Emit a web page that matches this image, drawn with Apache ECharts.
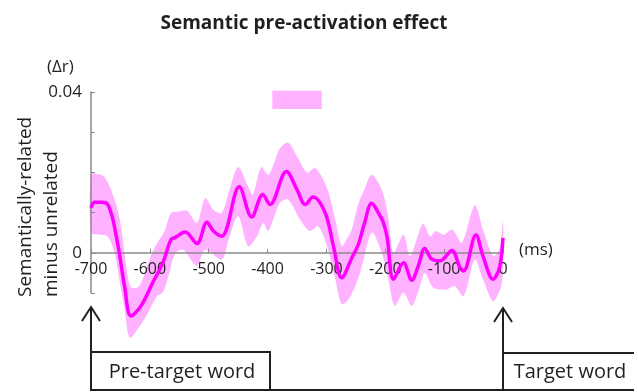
<!DOCTYPE html>
<html>
<head>
<meta charset="utf-8">
<style>html,body{margin:0;padding:0;background:#fff}#c{width:638px;height:392px}</style>
<script src="https://cdn.jsdelivr.net/npm/echarts@6/dist/echarts.min.js"></script>
</head>
<body>
<div id="c"></div>
<script>
// ---- data ----
var xTicks = [-700, -600, -500, -400, -300, -200, -100, 0];
var yTickLabels = ['0', '0.04'];

var meanT = [-700,-694,-684,-674,-665,-657,-652,-643,-632,-615,-595,-578,-564,-556,-540,-520,-503,-492,-478,-448,-427,-408,-396,-368,-350,-336,-323,-302,-288,-274,-256,-246,-236,-223,-212,-204,-197,-186,-169,-155,-144,-133,-121,-107,-87,-73,-67,-46,-34,-17,-6,0];
var meanV = [0.0112,0.0126,0.0126,0.0124,0.0095,0.0041,0.0000,-0.0083,-0.0157,-0.0132,-0.0074,-0.0025,0.0033,0.0039,0.0052,0.0023,0.0076,0.0054,0.0041,0.0164,0.0089,0.0145,0.0120,0.0202,0.0157,0.0120,0.0139,0.0099,0.0016,-0.0062,-0.0010,0.0020,0.0070,0.0123,0.0100,0.0078,0.0040,-0.0066,-0.0025,-0.0068,-0.0033,0.0011,-0.0016,-0.0020,0.0006,-0.0037,-0.0045,0.0044,-0.0008,-0.0066,-0.0037,0.0037];

var upperT = [-700,-690,-678,-666,-652,-640,-632,-618,-601,-590,-575,-564,-550,-537,-520,-506,-492,-478,-467,-450,-433,-425,-411,-399,-390,-379,-365,-350,-333,-319,-299,-285,-274,-266,-257,-247,-235,-223,-206,-195,-186,-169,-158,-136,-124,-114,-101,-86,-70,-48,-34,-17,-6,0];
var upperV = [0.0196,0.0196,0.0190,0.0157,0.0091,-0.0033,-0.0086,-0.0083,-0.0017,0.0018,0.0054,0.0099,0.0103,0.0105,0.0074,0.0136,0.0107,0.0099,0.0145,0.0213,0.0165,0.0145,0.0213,0.0194,0.0219,0.0260,0.0274,0.0240,0.0199,0.0211,0.0161,0.0083,0.0016,0.0033,0.0058,0.0116,0.0160,0.0194,0.0157,0.0091,0.0000,0.0045,-0.0008,0.0072,0.0041,0.0054,0.0045,0.0058,0.0025,0.0118,0.0058,-0.0008,0.0010,0.0078];

var lowerT = [-700,-686,-672,-660,-652,-643,-634,-617,-603,-588,-578,-567,-558,-544,-520,-506,-478,-467,-450,-433,-418,-407,-399,-379,-365,-345,-328,-314,-299,-285,-274,-260,-243,-223,-206,-195,-184,-169,-155,-141,-133,-118,-96,-82,-67,-48,-34,-17,-3,0];
var lowerV = [0.0050,0.0045,0.0041,0.0000,-0.0066,-0.0141,-0.0211,-0.0182,-0.0149,-0.0108,-0.0099,-0.0050,-0.0004,0.0008,-0.0033,0.0008,-0.0017,0.0029,0.0091,0.0016,0.0041,0.0074,0.0054,0.0124,0.0132,0.0083,0.0054,0.0066,0.0016,-0.0066,-0.0128,-0.0110,-0.0050,0.0050,0.0000,-0.0066,-0.0132,-0.0099,-0.0132,-0.0083,-0.0050,-0.0087,-0.0091,-0.0083,-0.0108,-0.0017,-0.0066,-0.0120,-0.0083,-0.0033];

// significance window (ms) and its vertical extent (Δr)
var sigWindow = [-392, -308];
var sigRange = [0.0403, 0.0358];

// ---- chart ----
var chart = echarts.init(document.getElementById('c'), null, {renderer: 'canvas'});
var FONT = '"Open Sans", sans-serif';
var TXT = '#231f20';
var Y_MIN = -0.01, Y_MAX = 0.04;
var GRID = {left: 91, right: 135, top: 92, bottom: 99};
var plotH = 392 - GRID.top - GRID.bottom;
// x axis sits on y = 0: shift it up from the grid bottom by the height of (0 - Y_MIN)
var xAxisOffset = -plotH * (0 - Y_MIN) / (Y_MAX - Y_MIN);

var meanData = meanT.map(function (t, i) { return [t, meanV[i]]; });

var option = {
  animation: false,
  backgroundColor: '#ffffff',
  title: {
    text: 'Semantic pre-activation effect',
    left: 299, top: 9, textAlign: 'center',
    textStyle: {fontFamily: FONT, fontSize: 19, fontWeight: 'bold', color: TXT}
  },
  grid: {left: GRID.left, right: GRID.right, top: GRID.top, bottom: GRID.bottom, containLabel: false},
  xAxis: {
    type: 'value', min: xTicks[0], max: xTicks[xTicks.length - 1], interval: 100,
    position: 'bottom', offset: xAxisOffset, z: 2,
    axisLine: {onZero: false, lineStyle: {color: '#8a8a8a', width: 1.5}},
    axisTick: {inside: true, length: 4, lineStyle: {color: '#8a8a8a', width: 1}},
    axisLabel: {margin: 9, fontFamily: FONT, fontSize: 16, color: TXT,
      formatter: function (v) { return xTicks.indexOf(v) >= 0 ? String(v) : ''; }},
    splitLine: {show: false}
  },
  yAxis: {
    type: 'value', min: Y_MIN, max: Y_MAX, interval: 0.01, z: 2,
    axisLine: {show: true, onZero: false, lineStyle: {color: '#8a8a8a', width: 1.5}},
    axisTick: {show: true, inside: true, length: 4, lineStyle: {color: '#8a8a8a', width: 1}},
    axisLabel: {margin: 9, fontFamily: FONT, fontSize: 17, color: TXT,
      formatter: function (v) {
        if (Math.abs(v) < 1e-9) return yTickLabels[0];
        if (Math.abs(v - 0.04) < 1e-9) return yTickLabels[1];
        return '';
      }},
    splitLine: {show: false}
  },
  series: [
    {
      type: 'custom', name: 'band', clip: false, silent: true,
      data: [[upperT[0], upperV[0]]],
      renderItem: function (params, api) {
        var pts = [];
        for (var i = 0; i < upperT.length; i++) pts.push(api.coord([upperT[i], upperV[i]]));
        for (var j = lowerT.length - 1; j >= 0; j--) pts.push(api.coord([lowerT[j], lowerV[j]]));
        return {type: 'polygon', shape: {points: pts, smooth: 0.3},
          style: {fill: 'rgba(255,0,255,0.3)', stroke: null}};
      },
      z: 1
    },
    {
      type: 'custom', name: 'sig', clip: false, silent: true,
      data: [[sigWindow[0], sigWindow[1], sigRange[0], sigRange[1]]],
      encode: {x: [0, 1], y: [2, 3]},
      renderItem: function (params, api) {
        var p1 = api.coord([api.value(0), api.value(2)]);
        var p2 = api.coord([api.value(1), api.value(3)]);
        return {type: 'rect', shape: {x: p1[0], y: p1[1], width: p2[0] - p1[0], height: p2[1] - p1[1]},
          style: {fill: 'rgba(255,0,255,0.3)'}};
      },
      z: 1
    },
    {
      type: 'line', name: 'mean', data: meanData, smooth: 0.35, showSymbol: false,
      lineStyle: {color: '#ff00ff', width: 3.5}, itemStyle: {color: '#ff00ff'},
      clip: false, z: 3
    }
  ],
  graphic: [
    {type: 'text', left: 47, top: 59, style: {text: '(\u0394r)', font: '17px ' + FONT, fill: TXT}},
    {type: 'text', left: 519, top: 242, style: {text: '(ms)', font: '17px ' + FONT, fill: TXT}},
    {type: 'text', x: 26, y: 297, rotation: Math.PI / 2,
      style: {text: 'Semantically-related', font: '19px ' + FONT, fill: TXT, textAlign: 'left', textVerticalAlign: 'middle'}},
    {type: 'text', x: 52, y: 297, rotation: Math.PI / 2,
      style: {text: 'minus unrelated', font: '19px ' + FONT, fill: TXT, textAlign: 'left', textVerticalAlign: 'middle'}},
    // arrows
    {type: 'polyline', shape: {points: [[91, 390], [91, 307]]}, style: {stroke: TXT, lineWidth: 2, fill: null}},
    {type: 'polyline', shape: {points: [[82, 321], [91, 307], [100, 321]]}, style: {stroke: TXT, lineWidth: 2, fill: null}},
    {type: 'polyline', shape: {points: [[503, 390], [503, 308]]}, style: {stroke: TXT, lineWidth: 2, fill: null}},
    {type: 'polyline', shape: {points: [[494, 322], [503, 308], [512, 322]]}, style: {stroke: TXT, lineWidth: 2, fill: null}},
    // boxes
    {type: 'polyline', shape: {points: [[91, 352], [270, 352], [270, 390]]}, style: {stroke: TXT, lineWidth: 2, fill: null}},
    {type: 'polyline', shape: {points: [[90, 390], [634, 390]]}, style: {stroke: TXT, lineWidth: 2, fill: null}},
    {type: 'polyline', shape: {points: [[503, 353], [634, 353]]}, style: {stroke: TXT, lineWidth: 2, fill: null}},
    {type: 'text', x: 182, y: 372, style: {text: 'Pre-target word', font: '20px ' + FONT, fill: TXT, textAlign: 'center', textVerticalAlign: 'middle'}},
    {type: 'text', x: 570, y: 372, style: {text: 'Target word', font: '20px ' + FONT, fill: TXT, textAlign: 'center', textVerticalAlign: 'middle'}}
  ]
};
chart.setOption(option);
</script>
</body>
</html>
